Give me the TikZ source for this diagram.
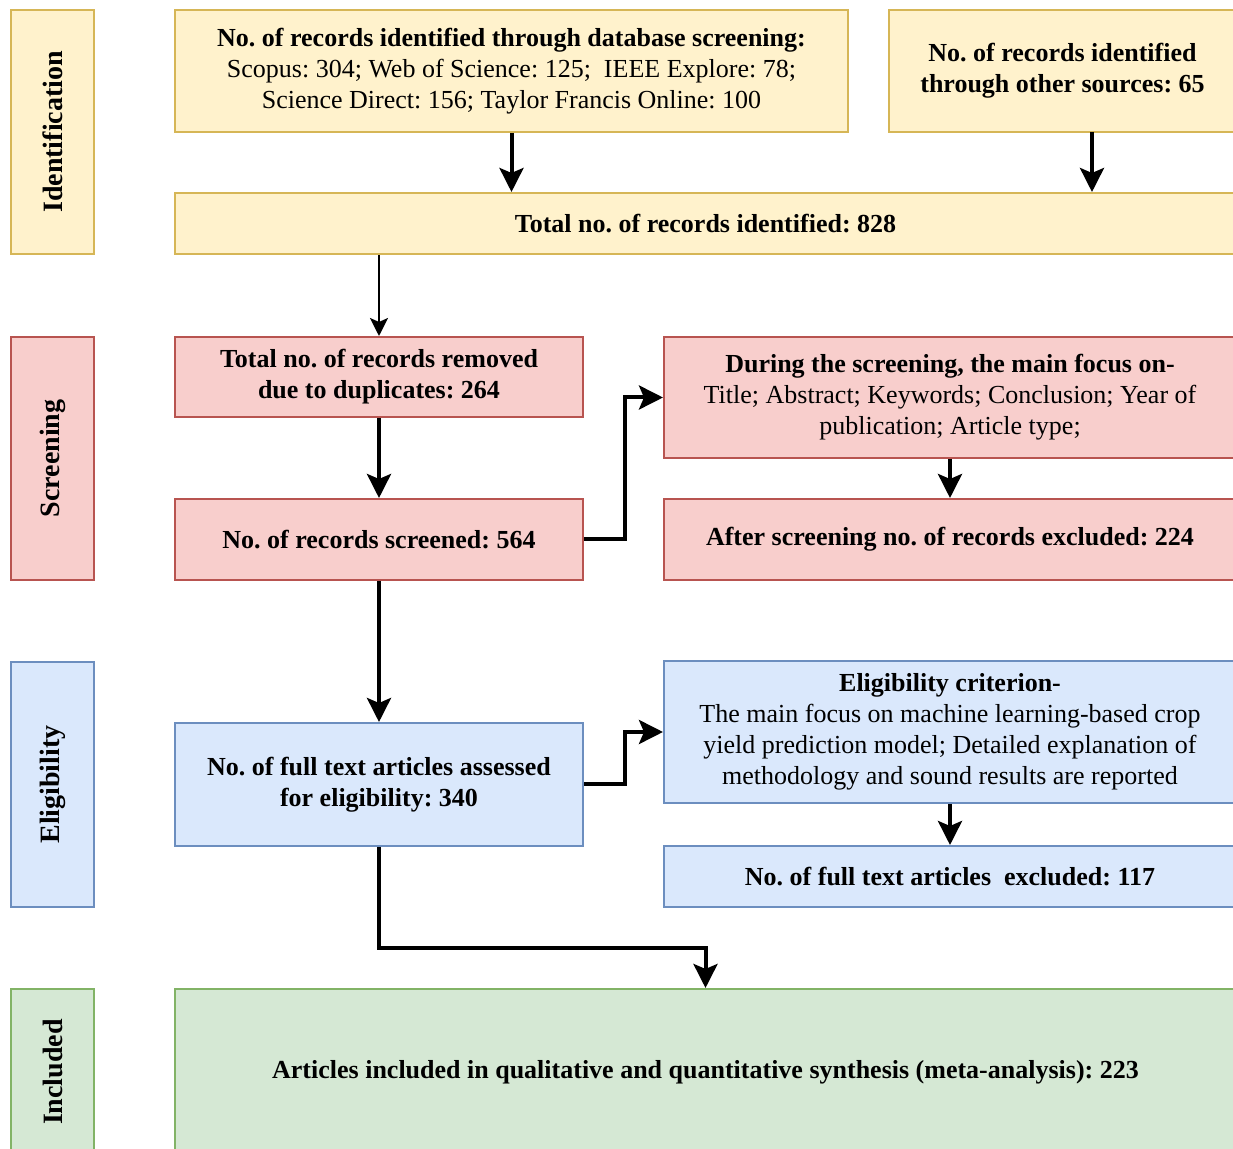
\documentclass[tikz,border=0pt]{standalone}
\usepackage{fontspec}
\setmainfont{Liberation Serif}
\usetikzlibrary{arrows.meta}
\frenchspacing

\definecolor{idfill}{HTML}{FFF2CC}
\definecolor{idline}{HTML}{D6B656}
\definecolor{scrfill}{HTML}{F8CECC}
\definecolor{scrline}{HTML}{B85450}
\definecolor{elifill}{HTML}{DAE8FC}
\definecolor{eliline}{HTML}{6C8EBF}
\definecolor{incfill}{HTML}{D5E8D4}
\definecolor{incline}{HTML}{82B366}

\begin{document}
\begin{tikzpicture}[x=0.5pt,y=-0.5pt,
		every node/.style={font=\fontsize{13}{15.5}\selectfont, align=center, inner sep=0pt},
		box/.style={draw, line width=1pt, rectangle},
		idbox/.style={box, fill=idfill, draw=idline},
		scrbox/.style={box, fill=scrfill, draw=scrline},
		elibox/.style={box, fill=elifill, draw=eliline},
		incbox/.style={box, fill=incfill, draw=incline},
		bold/.style={font=\fontsize{13}{15.5}\selectfont\bfseries},
		side/.style={rotate=90, minimum width=#1, minimum height=41.5pt, font=\fontsize{14}{16}\selectfont\bfseries},
		flow/.style={line width=2pt, -{Stealth[length=12pt,width=12pt,inset=2.5pt]}},
		thinflow/.style={line width=1pt, -{Stealth[length=9pt,width=9pt,inset=2pt]}}]
	\useasboundingbox (0,0) rectangle (1233,1149);
	% phase labels
	\node [idbox, side=122pt] (idlab) at (52.5,132) {Identification};
	\node [scrbox, side=121.5pt] (scrlab) at (52.5,458.5) {Screening};
	\node [elibox, side=122.5pt] (elilab) at (52.5,784.5) {Eligibility};
	\node [incbox, side=83pt] (inclab) at (52.5,1072) {Included};
	% identification
	\node [idbox, minimum width=336.5pt, minimum height=61pt] (db) at (511.5,71)
		{\textbf{No. of records identified through database screening:}\\
		 Scopus: 304; Web of Science: 125;~ IEEE Explore: 78;\\
		 Science Direct: 156; Taylor Francis Online: 100};
	\node [idbox, bold, minimum width=173.5pt, minimum height=61pt] (other) at (1062.5,71)
		{No. of records identified\\ through other sources: 65};
	\node [idbox, bold, minimum width=530.5pt, minimum height=30.5pt] (total) at (705.5,223.5)
		{Total no. of records identified: 828};
	% screening
	\node [scrbox, bold, minimum width=204pt, minimum height=40pt] (removed) at (379,377)
		{Total no. of records removed\\ due to duplicates: 264};
	\node [scrbox, bold, minimum width=204pt, minimum height=40.5pt] (screened) at (379,539.5)
		{No. of records screened: 564};
	\node [scrbox, minimum width=286pt, minimum height=60.5pt] (focus) at (950,397.5)
		{\textbf{During the screening, the main focus on-}\\
		 Title; Abstract; Keywords; Conclusion; Year of\\
		 publication; Article type;};
	\node [scrbox, bold, minimum width=286pt, minimum height=40.5pt] (excl) at (950,539.5)
		{After screening no. of records excluded: 224};
	% eligibility
	\node [elibox, bold, minimum width=204pt, minimum height=61.5pt] (fulltext) at (379,784.5)
		{No. of full text articles assessed\\ for eligibility: 340};
	\node [elibox, minimum width=286pt, minimum height=71pt] (crit) at (950,732)
		{\textbf{Eligibility criterion-}\\
		 The main focus on machine learning-based crop\\
		 yield prediction model; Detailed explanation of\\
		 methodology and sound results are reported};
	\node [elibox, bold, minimum width=286pt, minimum height=30.5pt] (excltwo) at (950,876.5)
		{No. of full text articles~ excluded: 117};
	% included
	\node [incbox, bold, minimum width=530.5pt, minimum height=83pt] (incl) at (705.5,1072)
		{Articles included in qualitative and quantitative synthesis (meta-analysis): 223};
	% connectors
	\coordinate (otherout) at (1092,132);
	\draw [flow] (db.south) -- (db.south |- total.north);
	\draw [flow] (otherout) -- (otherout |- total.north);
	\draw [thinflow] (total.south -| removed.north) -- (removed.north);
	\draw [flow] (removed.south) -- (screened.north);
	\draw [flow] (screened.east) -- ++(41,0) |- (focus.west);
	\draw [flow] (focus.south) -- (excl.north);
	\draw [flow] (screened.south) -- (fulltext.north);
	\draw [flow] (fulltext.east) -- ++(41,0) |- (crit.west);
	\draw [flow] (crit.south) -- (excltwo.north);
	\draw [flow] (fulltext.south) -- ++(0,101) -| (incl.north);
\end{tikzpicture}
\end{document}
